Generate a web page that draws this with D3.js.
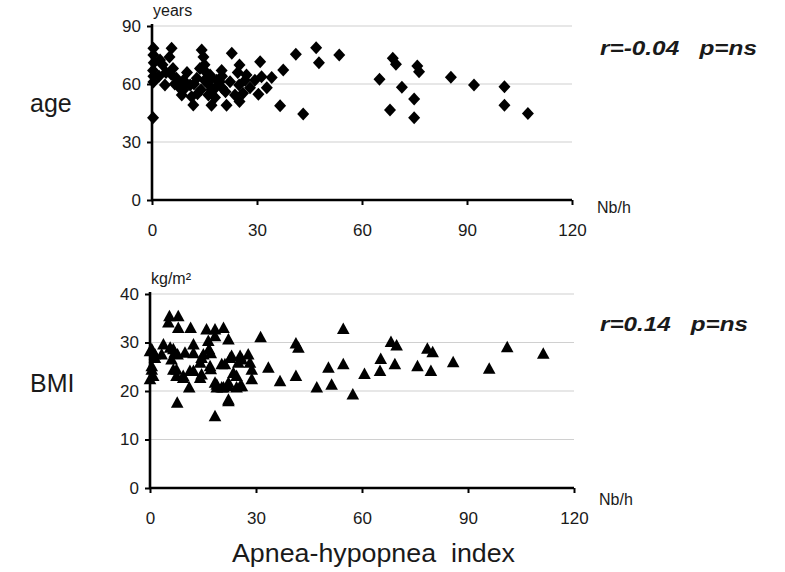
<!DOCTYPE html>
<html><head><meta charset="utf-8">
<script src="https://cdnjs.cloudflare.com/ajax/libs/d3/7.8.5/d3.min.js"></script>
<style>
body{margin:0;background:#fff;}
svg text{font-family:"Liberation Sans",Arial,Helvetica,sans-serif;fill:#1a1a1a;}
</style></head>
<body>
<svg id="chart" width="785" height="572"></svg>
<script>
// ---- data ----
const xTicks = [0, 30, 60, 90, 120];
const ageTicks = [0, 30, 60, 90];
const bmiTicks = [0, 10, 20, 30, 40];

// AHI (Nb/h) and age (years)
const ageAHI = [0.4,0.4,0.5,0.3,0.4,0.4,0.3,2.3,3,3.7,5.6,5,6,5.5,7,7.5,8,8.5,9,10,10.9,11.3,11.8,12.8,13.7,14.2,14.7,15,15.5,16.6,16,16.1,17,17,18,18.5,19.4,19.9,20,21,21.3,22.8,22.3,23.7,24.5,25,25,24.9,26,26.6,27,28,29.4,30.9,30.4,31.3,32.8,34.2,37.5,36.6,41.1,43.2,46.9,47.7,53.5,65,68.8,69.7,68,71.4,74.9,74.9,75.8,76.3,85.4,92,100.7,100.7,107.4,12,14,15,17,18,20,13,9,6.5,4,2];
const ageVal = [78.5,75,71,67,64,61,42.5,72.4,70,59.5,78.5,74,68,65,63,60,57.8,54.3,62,66,59.5,53.4,49.1,63,68,77.6,74,70,66,64.7,60,54.3,49,57,57.8,62,61.2,67,58,56,49,75.9,61.2,54.3,66,69.8,50.9,59.5,55.2,62,64.7,58,62,71.5,54.7,63.8,58,63.3,67.2,48.8,75.4,44.5,78.8,71,75,62.4,73.3,70.2,46.6,58.3,52.2,42.6,69.3,66.4,63.5,59.5,58.6,49,44.8,60,57,62,63,53,64,55,57,60,66,64];

// AHI (Nb/h) and BMI (kg/m2)
const bmiAHI = [0,0.5,0.9,1.4,0,3.3,5.5,5.2,8,8,3.8,5.7,7,6.1,7.5,7.5,9.4,7.7,11.1,9.9,11.5,12.3,11.3,14.6,14.6,16,16.5,16.7,17,18.4,18.4,18.4,18.4,18.9,20.8,22.2,20.8,21.2,22.2,22.2,23.1,24.5,25.5,25,27.8,28.3,28.8,28.8,31.3,33.5,36.8,41.3,42,41.3,47.2,50.5,51.4,54.7,54.7,57.4,60.7,65.1,65.3,68.2,69.8,69.3,75.7,78.5,80,79.5,85.8,96,101.1,111.3,0.5,1.4,6.6,7.8,12.3,15.1,17.2,25.5,22.7,0.5,14.2,20.3,6.6,9.4,12.3,14.2,17.2,23.6,18.9,20.3,22.2,24.5,22.2,26,26];
const bmiVal = [28.1,24.3,23,26.7,22.3,27.4,35.3,34,35.3,32.9,29.5,28.8,27.8,26.4,24.3,23,23,17.5,20.6,27.8,32.9,29.5,24,26.7,23.3,32.6,30.2,28.5,25,32.6,31.2,14.7,21.6,20.6,32.9,30.5,20.6,25.4,21.6,17.8,27.1,23,20.9,25.7,27.4,25.7,24.3,22.3,31,24.7,21.9,29.7,28.8,23,20.6,24.7,21.2,32.7,25.4,19.2,23.4,24,26.5,30,29.3,25.4,25,28.6,27.9,24,25.8,24.5,28.9,27.6,28.5,27.4,28.5,27.4,27.7,27.4,27.7,27.1,26.7,25,25.7,25.4,24.3,22.6,24,22.6,24.4,23.6,21.2,20.6,20.9,20.6,18.1,26.4,20.9];

// ---- drawing ----
const svg = d3.select("#chart");
const FONT = '"Liberation Sans",Arial,sans-serif';

function panel(opts){
  const g = svg.append("g");
  const x = d3.scaleLinear().domain([0,120]).range([opts.x0, opts.x1]);
  const y = d3.scaleLinear().domain([0, opts.ymax]).range([opts.y0, opts.y1]);

  // gridlines
  g.append("g").selectAll("line").data(opts.yticks.filter(d=>d>0)).join("line")
    .attr("x1", opts.x0).attr("x2", opts.x1)
    .attr("y1", d=>y(d)).attr("y2", d=>y(d))
    .attr("stroke", "#d0d0d0").attr("stroke-width", 1.2);

  // points
  const pts = opts.xs.map((v,i)=>[v, opts.ys[i]]);
  g.append("g").selectAll("path").data(pts).join("path")
    .attr("transform", d=>`translate(${x(d[0])},${y(d[1])})`)
    .attr("d", opts.shape)
    .attr("fill", "#000");

  // axes
  const yAxis = d3.axisLeft(y).tickValues(opts.yticks).tickSize(5).tickSizeOuter(0).tickPadding(6);
  const ya = g.append("g").attr("transform", `translate(${opts.x0},0)`).call(yAxis);
  ya.select(".domain").attr("stroke","#000").attr("stroke-width",2.6)
    .attr("d", `M0,${opts.y0+1}V${opts.y1-2}`);
  ya.selectAll(".tick line").attr("stroke","#000").attr("stroke-width",2);
  ya.selectAll(".tick text").attr("font-size", 17).style("fill","#1a1a1a")
    .attr("font-family",FONT);

  const xAxis = d3.axisBottom(x).tickValues(xTicks).tickSize(5).tickSizeOuter(0).tickPadding(22);
  const xa = g.append("g").attr("transform", `translate(0,${opts.y0})`).call(xAxis);
  xa.select(".domain").attr("stroke","#000").attr("stroke-width",2.6)
    .attr("d", `M${opts.x0-1},0H${opts.x1}`);
  xa.selectAll(".tick line").attr("stroke","#000").attr("stroke-width",2);
  xa.selectAll(".tick text").attr("font-size", 17).style("fill","#1a1a1a")
    .attr("font-family",FONT).attr("dy", "0.5em");

  // unit labels
  g.append("text").attr("x", opts.x0 + 1).attr("y", opts.y1 - 10)
    .attr("font-size", 16).text(opts.unit);
  g.append("text").attr("x", opts.x1 + 25).attr("y", opts.y0 + opts.nbDy)
    .attr("font-size", 16).text("Nb/h");
  // variable label
  g.append("text").attr("x", 30).attr("y", opts.labelY)
    .attr("font-size", 25).text(opts.label);
  // correlation
  g.append("text").attr("x", 600).attr("y", opts.rY)
    .attr("font-size", 21).attr("font-weight","bold").attr("font-style","italic")
    .attr("textLength", opts.rLen).attr("lengthAdjust","spacingAndGlyphs")
    .style("white-space","pre").text(opts.rText);
}

const diamond = "M0,-6.5L6,0L0,6.5L-6,0Z";
const triangle = "M0,-7L6.3,4.5L-6.3,4.5Z";

panel({x0:152, x1:572, y0:200, y1:26, ymax:90, yticks:ageTicks,
  xs:ageAHI, ys:ageVal, shape:diamond, unit:"years", label:"age", labelY:112,
  rText:"r=-0.04   p=ns", rY:55, rLen:157, nbDy:13});

panel({x0:150, x1:574, y0:488, y1:294, ymax:40, yticks:bmiTicks,
  xs:bmiAHI, ys:bmiVal, shape:triangle, unit:"kg/m²", label:"BMI", labelY:392,
  rText:"r=0.14   p=ns", rY:331, rLen:148, nbDy:17});

svg.append("text").attr("x", 232).attr("y", 562).attr("font-size", 26)
  .attr("textLength", 283).attr("lengthAdjust","spacingAndGlyphs")
  .style("white-space","pre").text("Apnea-hypopnea  index");
</script>
</body></html>
